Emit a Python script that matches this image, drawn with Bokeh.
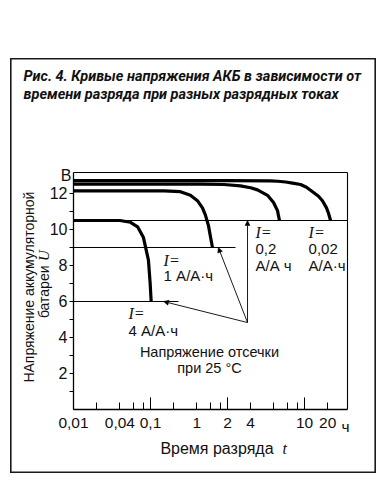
from math import pi
from bokeh.plotting import figure
from bokeh.models import (FixedTicker, Label, Arrow, NormalHead, ColumnDataSource,
                          Range1d, Spacer, LinearAxis)
from bokeh.layouts import column, row
from bokeh.embed import file_html
from bokeh.resources import INLINE
from bokeh.core.properties import value

# ---------------- data ----------------
# discharge curves: time t (h) vs battery voltage U (V)
t_i002 = [0.01, 1.0, 3.6, 4.5, 5.7, 7.0, 8.9, 10.6, 13.1, 15.2, 17.1, 19.3, 20.5, 21.8]
u_i002 = [12.72, 12.72, 12.7, 12.68, 12.64, 12.58, 12.5, 12.35, 12.06, 11.85, 11.6, 11.2, 10.9, 10.5]

t_i02 = [0.01, 0.45, 0.9, 1.47, 2.0, 2.45, 3.31, 3.96, 4.46, 4.73]
u_i02 = [12.52, 12.52, 12.5, 12.42, 12.32, 12.2, 11.9, 11.5, 11.05, 10.5]

t_i1 = [0.01, 0.15, 0.245, 0.33, 0.407, 0.473, 0.517, 0.567, 0.601, 0.638]
u_i1 = [12.15, 12.15, 12.1, 11.9, 11.6, 11.2, 10.8, 10.2, 9.6, 9.0]

t_i4 = [0.01, 0.04, 0.055, 0.068, 0.081, 0.094, 0.099, 0.102]
u_i4 = [10.5, 10.5, 10.4, 10.15, 9.55, 8.3, 7.0, 6.0]

# cut-off voltage lines
cut_u = [10.5, 9.0, 6.0]
cut_t_start = [0.01, 0.01, 0.01]
cut_t_end = [36.1, 1.27, 0.231]

# leader lines from the caption to the cut-off points
lead_t0 = [1.82, 1.82, 1.82]
lead_u0 = [4.83, 4.83, 4.83]
lead_t1 = [1.82, 0.76, 0.148]
lead_u1 = [10.5, 9.0, 6.0]

# axes
t_min, t_max = 0.01, 36.1
u_min, u_max = 0.0, 13.17
x_major = [0.01, 0.04, 0.1, 0.4, 1, 2, 10, 20]
x_major_labels = ["0,01", "0,04", "0,1", "1", "2", "4", "10", "20"]
x_minor = [0.02, 0.06, 0.08, 0.2, 0.6, 0.8, 4, 6, 8]
x_long = [0.1, 1, 10]
y_major = [2, 4, 6, 8, 10, 12]
y_major_labels = ["2", "4", "6", "8", "10", "12"]
y_minor = [1, 3, 5, 7, 9, 11]

# curve annotations
i_label_t = [11.3, 2.31, 0.148, 0.0518]
i_label_u = [9.83, 9.83, 8.28, 5.33]
cur_text = ["0,02", "А/А·ч", "0,2", "А/А ч", "1 А/А·ч", "4 А/А·ч"]
cur_t = [11.3, 11.3, 2.31, 2.31, 0.148, 0.0518]
cur_u = [8.94, 8.0, 8.94, 8.0, 7.44, 4.39]
cap_text = ["Напряжение отсечки", "при 25 °C"]
cap_t = [0.583, 0.583]
cap_u = [3.22, 2.28]

title_lines = ["Рис. 4. Кривые напряжения АКБ в зависимости от",
               "времени разряда при разных разрядных токах"]

# ---------------- figure ----------------
# the frame covers the whole boxed area; axes sit at fixed data locations inside it
p = figure(frame_width=366, frame_height=415, x_axis_type="log",
           x_range=Range1d(0.00152, 86.1), y_range=Range1d(-3.556, 19.5),
           output_backend="svg", toolbar_location=None, min_border=0)
p.xgrid.visible = False
p.ygrid.visible = False
p.outline_line_color = "#1a1a1a"
p.outline_line_width = 2.2
p.background_fill_color = "white"
p.border_fill_color = "white"

FONT = "Liberation Sans"
INK = "#111111"

xa = p.xaxis[0]
xa.fixed_location = u_min
xa.bounds = (t_min, t_max)
xa.ticker = FixedTicker(ticks=x_major, minor_ticks=x_minor)
xa.major_label_overrides = {v: s for v, s in zip(x_major, x_major_labels)}
xa.major_tick_in = 7
xa.major_tick_out = 0
xa.minor_tick_in = 7
xa.minor_tick_out = 0
xa.major_label_standoff = 9
xa.major_label_text_font = FONT
xa.major_label_text_font_size = "15.5px"
xa.major_label_text_color = INK
xa.axis_line_color = "black"
xa.axis_line_width = 1.3
xa.major_tick_line_color = "black"
xa.minor_tick_line_color = "black"

ya = p.yaxis[0]
ya.fixed_location = t_min
ya.bounds = (u_min, u_max)
ya.ticker = FixedTicker(ticks=y_major, minor_ticks=y_minor)
ya.major_label_overrides = {v: s for v, s in zip(y_major, y_major_labels)}
ya.major_tick_in = 0
ya.major_tick_out = 4
ya.minor_tick_in = 0
ya.minor_tick_out = 4
ya.major_label_standoff = 2
ya.major_label_text_font = FONT
ya.major_label_text_font_size = "16px"
ya.major_label_text_color = INK
ya.axis_line_color = "black"
ya.axis_line_width = 1.3
ya.major_tick_line_color = "black"
ya.minor_tick_line_color = "black"

# top and right edges of the plot box
top_axis = LinearAxis(fixed_location=u_max, bounds=(t_min, t_max),
                      ticker=FixedTicker(ticks=[]), major_label_text_font_size="0px",
                      axis_line_color="black", axis_line_width=1.1)
right_axis = LinearAxis(fixed_location=t_max, bounds=(u_min, u_max),
                        ticker=FixedTicker(ticks=[]), major_label_text_font_size="0px",
                        axis_line_color="black", axis_line_width=1.1)
p.add_layout(top_axis, "above")
p.add_layout(right_axis, "right")

# long decade ticks
p.segment(x0=x_long, y0=[u_min] * len(x_long), x1=x_long, y1=[0.67] * len(x_long),
          line_color="black", line_width=1)

# cut-off lines
p.segment(x0=cut_t_start, y0=cut_u, x1=cut_t_end, y1=cut_u,
          line_color="black", line_width=1)

# discharge curves
for tt, uu in [(t_i002, u_i002), (t_i02, u_i02), (t_i1, u_i1), (t_i4, u_i4)]:
    p.line(tt, uu, line_color="black", line_width=3.2, line_join="round")

# leader arrows
lead_src = ColumnDataSource(dict(x0=lead_t0, y0=lead_u0, x1=lead_t1, y1=lead_u1))
p.add_layout(Arrow(source=lead_src, x_start="x0", y_start="y0", x_end="x1", y_end="y1",
                   line_color="black", line_width=0.9,
                   end=NormalHead(size=5, fill_color="black", line_color="black",
                                  line_width=0.5)))

# annotations inside the plot
p.text(x=i_label_t, y=i_label_u, text=["I="] * len(i_label_t),
       text_font=value("Liberation Serif"), text_font_style="italic",
       text_font_size=value("16px"), text_baseline="middle", text_align="left",
       text_color=INK)
p.text(x=cur_t, y=cur_u, text=cur_text, text_font=value(FONT),
       text_font_size=value("15px"), text_baseline="middle", text_align="left",
       text_color=INK)
p.text(x=cap_t, y=cap_u, text=cap_text, text_font=value(FONT),
       text_font_size=value("14.5px"), text_baseline="middle", text_align="center",
       text_color=INK)

# unit labels
p.add_layout(Label(x=0.00942, y=13.0, text="В", text_font=FONT, text_font_size="16px",
                   text_align="right", text_baseline="middle", text_color=INK))
p.add_layout(Label(x=34.0, y=-0.92, text="ч", text_font=FONT, text_font_size="15.5px",
                   text_align="center", text_baseline="middle", text_color=INK))

# x axis title
p.add_layout(Label(x=3.96, y=-2.17, text="Время разряда", text_font=FONT,
                   text_font_size="16px", text_align="right", text_baseline="middle",
                   text_color=INK))
p.add_layout(Label(x=5.18, y=-2.17, text="t", text_font="Liberation Serif",
                   text_font_style="italic", text_font_size="16px", text_align="left",
                   text_baseline="middle", text_color=INK))

# y axis title (rotated)
p.add_layout(Label(x=0.00268, y=6.8, text="НАпряжение аккумуляторной", angle=pi / 2,
                   text_font=FONT, text_font_size="14px", text_align="center",
                   text_baseline="middle", text_color=INK))
p.add_layout(Label(x=0.0042, y=8.0, text="батареи", angle=pi / 2,
                   text_font=FONT, text_font_size="14px", text_align="right",
                   text_baseline="middle", text_color=INK))
p.add_layout(Label(x=0.0042, y=8.25, text="U", angle=pi / 2,
                   text_font="Liberation Serif", text_font_style="italic",
                   text_font_size="15px", text_align="left",
                   text_baseline="middle", text_color=INK))

# title
for line, yy in zip(title_lines, [18.5, 17.5]):
    p.add_layout(Label(x=0.002245, y=yy, text=line,
                       text_font="Roboto", text_font_style="bold italic",
                       text_font_size="14.5px", text_align="left", text_baseline="middle",
                       text_color=INK))

layout = column(Spacer(width=376, height=58), row(Spacer(width=10, height=415), p))
open("out.html", "w").write(file_html(layout, INLINE))
